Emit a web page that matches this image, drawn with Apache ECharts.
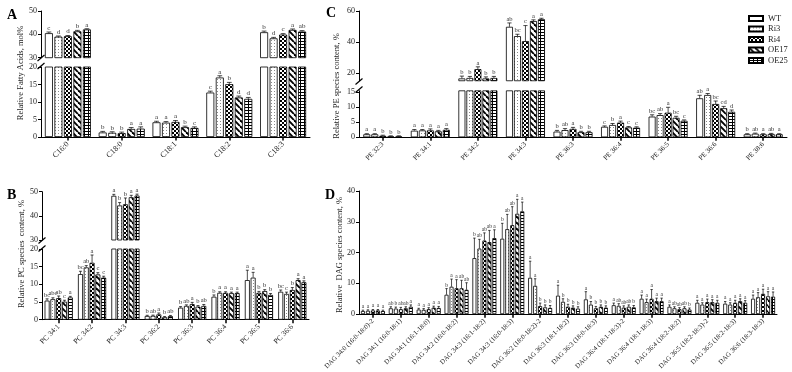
<!DOCTYPE html>
<html><head><meta charset="utf-8">
<script src="https://cdn.jsdelivr.net/npm/echarts@6/dist/echarts.min.js"></script>
<style>html,body{margin:0;padding:0;background:#fff}#c{width:792px;height:372px}</style>
</head><body><div id="c"></div>
<script>
const groups = ['WT','Ri3','Ri4','OE17','OE25'];

// ---- Panel A: fatty acids ----
const catA = ['C16:0','C18:0','C18:1','C18:2','C18:3'];
const aWT   = [40.5, 1.3, 4.2, 12.7, 40.9];
const aRi3  = [39.0, 1.2, 4.1, 17.0, 38.3];
const aRi4  = [39.2, 1.1, 4.3, 15.1, 39.9];
const aOE17 = [41.3, 2.3, 2.8, 11.3, 41.9];
const aOE25 = [42.1, 2.4, 2.6, 10.9, 41.2];
const aErrWT   = [0.5, 0.3, 0.3, 0.4, 0.5];
const aErrRi3  = [0.3, 0.3, 0.3, 0.5, 0.4];
const aErrRi4  = [0.3, 0.3, 0.4, 0.5, 0.4];
const aErrOE17 = [0.4, 0.4, 0.3, 0.4, 0.4];
const aErrOE25 = [0.3, 0.5, 0.3, 0.4, 0.4];
const aLetWT   = ['c','b','a','c','b'];
const aLetRi3  = ['d','b','a','a','d'];
const aLetRi4  = ['d','b','a','b','c'];
const aLetOE17 = ['b','a','b','d','a'];
const aLetOE25 = ['a','a','c','d','ab'];

// ---- Panel B: PC species ----
const catB = ['PC 34:1','PC 34:2','PC 34:3','PC 36:2','PC 36:3','PC 36:4','PC 36:5','PC 36:6'];
const bWT   = [5.4, 12.9, 48.3, 1.05, 3.4, 6.5, 11.2, 7.9];
const bRi3  = [5.8, 14.8, 44.3, 1.1, 3.9, 7.6, 11.9, 7.3];
const bRi4  = [6.1, 16.1, 44.8, 1.5, 4.4, 7.6, 7.6, 8.4];
const bOE17 = [5.1, 12.8, 47.7, 0.7, 3.7, 7.5, 8.1, 11.2];
const bOE25 = [6.3, 11.9, 48.4, 1.0, 3.9, 7.5, 7.0, 10.6];
const bErrWT   = [0.5, 0.8, 0.6, 0.2, 0.3, 0.5, 2.8, 0.5];
const bErrRi3  = [0.4, 0.5, 1.2, 0.2, 0.3, 0.3, 1.5, 0.5];
const bErrRi4  = [0.6, 2.2, 2.6, 0.4, 0.5, 0.3, 0.4, 0.7];
const bErrOE17 = [0.4, 0.5, 0.8, 0.2, 0.3, 0.3, 0.4, 0.4];
const bErrOE25 = [0.3, 0.4, 0.6, 0.2, 0.4, 0.3, 0.4, 0.4];
const bLetWT   = ['bc','bc','a','b','b','b','a','bc'];
const bLetRi3  = ['abc','ab','b','ab','ab','a','a','c'];
const bLetRi4  = ['ab','a','b','a','a','a','b','b'];
const bLetOE17 = ['c','c','a','b','b','a','b','a'];
const bLetOE25 = ['a','c','a','ab','ab','a','b','a'];

// ---- Panel C: PE species ----
const catC = ['PE 32:3','PE 34:1','PE 34:2','PE 34:3','PE 36:3','PE 36:4','PE 36:5','PE 36:6','PE 38:6'];
const cWT   = [1.0, 2.2, 16.5, 49.8, 1.9, 3.5, 6.9, 13.0, 1.0];
const cRi3  = [1.0, 2.3, 16.8, 43.8, 2.4, 4.1, 7.4, 14.1, 1.2];
const cRi4  = [0.5, 2.3, 22.5, 40.6, 2.8, 4.9, 8.2, 11.1, 1.0];
const cOE17 = [0.3, 2.0, 16.5, 53.5, 1.7, 3.3, 6.5, 9.7, 1.1];
const cOE25 = [0.3, 2.5, 16.8, 54.7, 1.7, 3.2, 5.5, 8.5, 1.0];
const cErrWT   = [0.2, 0.4, 1.5, 2.5, 0.4, 0.3, 0.6, 1.0, 0.2];
const cErrRi3  = [0.2, 0.3, 1.0, 1.2, 0.5, 0.5, 0.5, 0.5, 0.2];
const cErrRi4  = [0.2, 0.5, 1.5, 10.0, 0.5, 0.5, 1.8, 1.0, 0.2];
const cErrOE17 = [0.2, 0.3, 1.0, 0.8, 0.3, 0.3, 0.5, 0.6, 0.2];
const cErrOE25 = [0.2, 0.4, 1.0, 0.6, 0.3, 0.3, 0.3, 0.6, 0.2];
const cLetWT   = ['a','a','b','ab','b','c','bc','ab','b'];
const cLetRi3  = ['a','a','b','bc','ab','b','ab','a','ab'];
const cLetRi4  = ['b','a','a','c','a','a','a','bc','a'];
const cLetOE17 = ['b','a','b','a','b','c','bc','cd','ab'];
const cLetOE25 = ['b','a','b','a','b','c','c','d','a'];

// ---- Panel D: DAG species ----
const catD = ['DAG 34:0 (16:0-18:0)-2','DAG 34:1 (16:0-18:1)','DAG 34:1 (16:1-18:0)','DAG 34:2 (16:0-18:2)',
  'DAG 34:3 (16:1-18:2)','DAG 34:3 (16:0-18:3)','DAG 36:2 (18:0-18:2)-2','DAG 36:3 (18:1-18:2)',
  'DAG 36:3 (18:0-18:3)','DAG 36:4 (18:1-18:3)-2','DAG 36:4 (18:1-18:3)','DAG 36:4 (18:2-18:2)',
  'DAG 36:5 (18:2-18:3)-2','DAG 36:5 (18:2-18:3)','DAG 36:6 (18:3-18:3)'];
const dWT   = [1.0, 1.9, 1.5, 6.3, 18.2, 24.5, 11.8, 6.0, 4.8, 2.9, 5.0, 2.4, 3.7, 3.4, 5.0];
const dRi3  = [1.1, 1.8, 1.4, 8.9, 21.3, 27.6, 9.2, 4.0, 3.1, 2.7, 3.9, 1.9, 3.1, 3.1, 5.5];
const dRi4  = [1.2, 1.6, 1.6, 8.4, 23.9, 28.9, 2.6, 2.4, 1.9, 2.1, 5.0, 1.6, 3.9, 3.7, 6.6];
const dOE17 = [1.2, 1.9, 2.1, 8.4, 23.4, 32.6, 2.2, 2.1, 2.4, 2.4, 4.2, 1.9, 3.9, 4.2, 5.8];
const dOE25 = [1.0, 2.4, 2.0, 7.9, 24.7, 33.4, 2.0, 1.8, 2.1, 2.2, 4.2, 1.5, 3.7, 3.7, 5.7];
const dErrWT   = [0.3, 0.5, 0.4, 2.0, 6.5, 5.0, 5.4, 3.4, 2.5, 0.7, 1.2, 0.6, 0.8, 0.7, 1.2];
const dErrRi3  = [0.3, 0.5, 0.4, 2.5, 3.0, 4.8, 2.3, 1.0, 1.0, 0.7, 1.0, 0.5, 0.6, 0.6, 1.5];
const dErrRi4  = [0.3, 0.6, 0.5, 2.8, 2.5, 6.0, 1.0, 0.8, 0.6, 0.6, 3.0, 0.5, 1.0, 0.8, 1.5];
const dErrOE17 = [0.3, 0.5, 0.5, 2.6, 3.8, 4.7, 0.8, 0.6, 0.6, 0.6, 1.0, 0.5, 0.8, 0.8, 1.5];
const dErrOE25 = [0.3, 0.6, 0.5, 2.3, 2.7, 3.0, 0.8, 0.6, 0.6, 0.6, 1.0, 0.5, 0.8, 0.7, 1.5];
const dLetWT   = ['a','ab','a','b','b','b','a','a','a','a','a','a','a','a','a'];
const dLetRi3  = ['a','b','a','a','ab','ab','a','b','b','ab','a','ab','a','a','a'];
const dLetRi4  = ['a','ab','a','a','ab','ab','b','b','b','ab','a','ab','a','a','a'];
const dLetOE17 = ['a','ab','a','ab','ab','a','b','b','b','ab','a','ab','a','a','a'];
const dLetOE25 = ['a','a','a','ab','a','a','b','b','b','b','a','b','a','a','a'];

const FONT = "'Liberation Serif','Times New Roman',serif";

// ---- fill patterns ----
function makePattern(kind) {
  const c = document.createElement('canvas');
  let ctx;
  if (kind === 'white') { c.width = 2; c.height = 2; ctx = c.getContext('2d'); ctx.fillStyle = '#fff'; ctx.fillRect(0,0,2,2); }
  if (kind === 'dots') { c.width = 3; c.height = 3; ctx = c.getContext('2d'); ctx.fillStyle = '#fff'; ctx.fillRect(0,0,3,3); ctx.fillStyle = '#8a8a8a'; ctx.fillRect(1,1,1,1); }
  if (kind === 'check') { c.width = 4; c.height = 4; ctx = c.getContext('2d'); ctx.fillStyle = '#fff'; ctx.fillRect(0,0,4,4); ctx.fillStyle = '#000'; ctx.fillRect(0,0,2,2); ctx.fillRect(2,2,2,2); }
  if (kind === 'diag') {
    c.width = 6; c.height = 6; ctx = c.getContext('2d'); ctx.fillStyle = '#fff'; ctx.fillRect(0,0,6,6);
    ctx.strokeStyle = '#000'; ctx.lineWidth = 1.9;
    for (let k = -1; k <= 1; k++) { ctx.beginPath(); ctx.moveTo(k*6, 0); ctx.lineTo(k*6+6, 6); ctx.stroke(); }
  }
  if (kind === 'ladder') { c.width = 4; c.height = 3; ctx = c.getContext('2d'); ctx.fillStyle = '#000'; ctx.fillRect(0,0,4,3); ctx.fillStyle = '#fff'; ctx.fillRect(1,0,3,2); }
  return { image: c, repeat: 'repeat' };
}
const fills = [makePattern('white'), makePattern('dots'), makePattern('check'), makePattern('diag'), makePattern('ladder')];

const panels = [
  { cats: catA, vals: [aWT,aRi3,aRi4,aOE17,aOE25], errs: [aErrWT,aErrRi3,aErrRi4,aErrOE17,aErrOE25], lets: [aLetWT,aLetRi3,aLetRi4,aLetOE17,aLetOE25],
    left: 41, width: 269, bw: 8, gap: 1.5, lfs: 7, xfs: 8,
    segs: [ {top: 11, height: 46.7, min: 30, max: 50, ticks: [30,40,50]}, {top: 67, height: 70, min: 0, max: 20, ticks: [0,5,10,15,20]} ] },
  { cats: catB, vals: [bWT,bRi3,bRi4,bOE17,bOE25], errs: [bErrWT,bErrRi3,bErrRi4,bErrOE17,bErrOE25], lets: [bLetWT,bLetRi3,bLetRi4,bLetOE17,bLetOE25],
    left: 42, width: 267, bw: 5, gap: 0.8, lfs: 6.5, xfs: 7.5,
    segs: [ {top: 191.7, height: 48.3, min: 30, max: 50, ticks: [30,40,50]}, {top: 249, height: 70.7, min: 0, max: 20, ticks: [0,5,10,15,20]} ] },
  { cats: catC, vals: [cWT,cRi3,cRi4,cOE17,cOE25], errs: [cErrWT,cErrRi3,cErrRi4,cErrOE17,cErrOE25], lets: [cLetWT,cLetRi3,cLetRi4,cLetOE17,cLetOE25],
    left: 359, width: 428, bw: 7, gap: 1, lfs: 6.5, xfs: 7,
    segs: [ {top: 11, height: 69.75, min: 15, max: 60, ticks: [20,40,60]}, {top: 90.8, height: 46.5, min: 0, max: 15.5, ticks: [0,5,10,15]} ] },
  { cats: catD, vals: [dWT,dRi3,dRi4,dOE17,dOE25], errs: [dErrWT,dErrRi3,dErrRi4,dErrOE17,dErrOE25], lets: [dLetWT,dLetRi3,dLetRi4,dLetOE17,dLetOE25],
    left: 359, width: 418, bw: 4, gap: 1, lfs: 5.5, xfs: 6.8,
    segs: [ {top: 191, height: 128.3, min: 0, max: 40, ticks: [0,10,20,30,40]} ] }
];

const grids = [], xAxes = [], yAxes = [], series = [];
panels.forEach((p, pi) => {
  const nSeg = p.segs.length;
  const lowerMax = p.segs[nSeg-1].max;
  p.segs.forEach((s, si) => {
    const gi = grids.length;
    const bottom = si === nSeg - 1;
    grids.push({ left: p.left, top: s.top, width: p.width, height: s.height, containLabel: false });
    xAxes.push({
      type: 'category', gridIndex: gi, data: p.cats, show: bottom,
      axisLine: { show: bottom, lineStyle: { color: '#000', width: 1 } },
      axisTick: { show: bottom, alignWithLabel: true, length: 3.5, lineStyle: { color: '#000', width: 1.5 } },
      axisLabel: { show: bottom, rotate: 45, interval: 0, fontSize: p.xfs, fontFamily: FONT, color: '#222', margin: 6 }
    });
    yAxes.push({
      type: 'value', gridIndex: gi, min: s.min, max: s.max,
      axisLine: { show: true, lineStyle: { color: '#000', width: 1 } },
      axisTick: { show: true, length: 3, customValues: s.ticks, lineStyle: { color: '#000', width: 1 } },
      axisLabel: { show: true, customValues: s.ticks, fontSize: 8, fontFamily: FONT, color: '#222', margin: 4 },
      splitLine: { show: false }
    });
    const inSeg = v => bottom ? v <= lowerMax : v > lowerMax;
    groups.forEach((g, k) => {
      series.push({
        type: 'bar', name: g, xAxisIndex: gi, yAxisIndex: gi,
        data: p.vals[k].map(v => (bottom || v > lowerMax) ? v : '-'),
        barWidth: p.bw, barGap: (p.gap / p.bw * 100) + '%', clip: true,
        itemStyle: { color: fills[k], borderColor: '#000', borderWidth: 0.8 },
        emphasis: { disabled: true }, animation: false, z: 2
      });
    });
    const eData = [], eLet = [];
    groups.forEach((g, k) => {
      p.vals[k].forEach((v, ci) => {
        if (inSeg(v)) { eData.push([ci, k, v, p.errs[k][ci]]); eLet.push(p.lets[k][ci]); }
      });
    });
    series.push({
      type: 'custom', name: '_err' + gi, xAxisIndex: gi, yAxisIndex: gi, data: eData, clip: false, z: 5, animation: false,
      renderItem: function (params, api) {
        const ci = api.value(0), k = api.value(1), v = api.value(2), e = api.value(3);
        const base = api.coord([ci, v]);
        const x = base[0] + (k - 2) * (p.bw + p.gap);
        const y0 = base[1];
        const y1 = api.coord([ci, v + e])[1];
        const cw = Math.max(1.2, p.bw * 0.3);
        return { type: 'group', children: [
          { type: 'line', shape: { x1: x, y1: y0, x2: x, y2: y1 }, style: { stroke: '#000', lineWidth: 0.7 } },
          { type: 'line', shape: { x1: x - cw, y1: y1, x2: x + cw, y2: y1 }, style: { stroke: '#000', lineWidth: 0.7 } },
          { type: 'text', style: { text: eLet[params.dataIndex], x: x, y: y1 - 0.5, align: 'center', verticalAlign: 'bottom',
              fontSize: p.lfs, fontFamily: FONT, fill: '#333' } }
        ] };
      }
    });
  });
});

function brk(x, y) {
  return { type: 'line', shape: { x1: x - 3.5, y1: y + 3, x2: x + 3.5, y2: y - 3 }, style: { stroke: '#000', lineWidth: 1.2 } };
}
function vtitle(x, y, t) {
  return { type: 'text', x: x, y: y, rotation: Math.PI / 2,
    style: { text: t, fontSize: 8.5, fontFamily: FONT, fill: '#222', align: 'center', verticalAlign: 'middle' } };
}
function letter(x, y, t) {
  return { type: 'text', x: x, y: y, style: { text: t, fontSize: 14, fontWeight: 'bold', fontFamily: FONT, fill: '#000', align: 'left', verticalAlign: 'top' } };
}

const chart = echarts.init(document.getElementById('c'), null, { renderer: 'canvas' });
chart.setOption({
  backgroundColor: '#fff',
  animation: false,
  grid: grids, xAxis: xAxes, yAxis: yAxes, series: series,
  legend: {
    data: groups, orient: 'vertical', left: 743, top: 9, itemWidth: 14, itemHeight: 5, itemGap: 1.5,
    textStyle: { fontSize: 8.5, fontFamily: FONT, color: '#222', lineHeight: 6 }, icon: 'rect', selectedMode: false
  },
  graphic: [
    brk(41, 58), brk(41, 66),
    brk(42, 240.5), brk(42, 248.5),
    brk(359, 81.5), brk(359, 89.5),
    vtitle(21, 73, 'Relative Fatty Acids, mol%'),
    vtitle(22, 254, 'Relative PC species  content, %'),
    vtitle(337, 86, 'Relative PE species content, %'),
    vtitle(340, 255, 'Relative  DAG species content, %'),
    letter(7, 8, 'A'), letter(7, 188, 'B'), letter(326, 6, 'C'), letter(325, 188, 'D')
  ]
});
</script></body></html>
